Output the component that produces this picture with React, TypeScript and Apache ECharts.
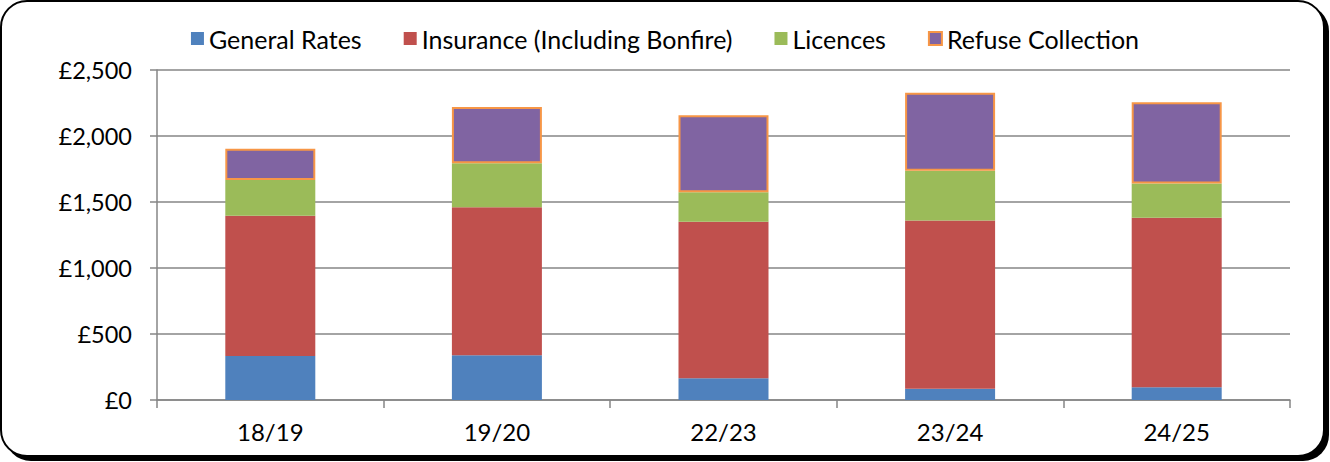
import React, { useEffect, useRef } from "react";
import * as echarts from "echarts";

const categories = ["18/19", "19/20", "22/23", "23/24", "24/25"];
const generalRates = [333, 339, 164, 86, 96];
const insurance = [1063, 1121, 1187, 1273, 1285];
const licences = [271, 333, 222, 378, 260];
const refuse = [237, 427, 584, 591, 614];
const yTicks = { min: 0, max: 2500, interval: 500 };

const FONT = "Lato";

export default function App() {
  const ref = useRef<HTMLDivElement>(null);
  useEffect(() => {
    document.body.style.margin = "0";
    const chart = echarts.init(ref.current!, null, { renderer: "svg" });
    const axisGray = "#868686";
    chart.setOption({
      animation: false,
      backgroundColor: "#ffffff",
      textStyle: { fontFamily: FONT },
      graphic: [
        {
          type: "rect",
          shape: { x: 5, y: 5, width: 1324, height: 456, r: 26 },
          style: { fill: "#000" },
          z: -10,
          silent: true,
        },
        {
          type: "rect",
          shape: { x: 1, y: 1, width: 1323, height: 455, r: 26 },
          style: { fill: "#fff", stroke: "#000", lineWidth: 2 },
          z: -9,
          silent: true,
        },
      ],
      legend: {
        top: 21,
        left: "center",
        itemWidth: 13,
        itemHeight: 13,
        itemGap: 42,
        icon: "rect",
        textStyle: { fontFamily: FONT, fontSize: 25, color: "#000" },
        data: [
          "General Rates",
          "Insurance (Including Bonfire)",
          "Licences",
          "Refuse Collection",
        ],
      },
      grid: { left: 157, right: 40, top: 70, bottom: 62 },
      xAxis: {
        type: "category",
        data: categories,
        boundaryGap: true,
        axisLine: { lineStyle: { color: axisGray, width: 1.5 } },
        axisTick: { show: true, interval: 0, length: 8, lineStyle: { color: axisGray, width: 1.5 } },
        axisLabel: { fontFamily: FONT, fontSize: 24, color: "#000", margin: 19 },
      },
      yAxis: {
        type: "value",
        min: yTicks.min,
        max: yTicks.max,
        interval: yTicks.interval,
        axisLine: { show: true, lineStyle: { color: axisGray, width: 1.5 } },
        axisTick: { show: true, length: 7, lineStyle: { color: axisGray, width: 1.5 } },
        splitLine: { lineStyle: { color: axisGray, width: 1.5 } },
        axisLabel: {
          fontFamily: FONT,
          fontSize: 23.5,
          color: "#000",
          margin: 25,
          formatter: (v: number) => "£" + v.toLocaleString("en-GB"),
        },
      },
      series: [
        {
          name: "General Rates",
          type: "bar",
          stack: "total",
          barWidth: 90,
          data: generalRates,
          itemStyle: { color: "#4F81BD" },
        },
        {
          name: "Insurance (Including Bonfire)",
          type: "bar",
          stack: "total",
          barWidth: 90,
          data: insurance,
          itemStyle: { color: "#C0504D" },
        },
        {
          name: "Licences",
          type: "bar",
          stack: "total",
          barWidth: 90,
          data: licences,
          itemStyle: { color: "#9BBB59" },
        },
        {
          name: "Refuse Collection",
          type: "bar",
          stack: "total",
          barWidth: 90,
          data: refuse,
          itemStyle: { color: "#8064A2", borderColor: "#F79646", borderWidth: 2 },
        },
      ],
    });
    return () => chart.dispose();
  }, []);
  return <div ref={ref} style={{ width: 1330, height: 462 }} />;
}
